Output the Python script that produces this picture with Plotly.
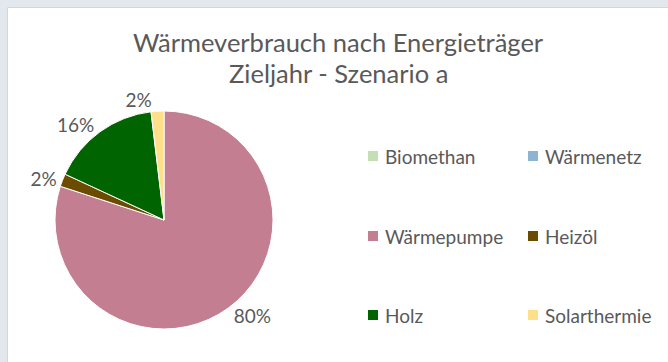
import plotly.graph_objects as go

# Energy carriers and their share of heat consumption (target year, scenario a)
categories = ["Biomethan", "Wärmenetz", "Wärmepumpe", "Heizöl", "Holz", "Solarthermie"]
shares = [0.0, 0.0, 80.0, 1.9, 16.2, 1.9]
colors = ["#c5dfb4", "#8db4d2", "#c47e91", "#6a4b00", "#006400", "#ffdf8a"]

title_lines = ["Wärmeverbrauch nach Energieträger", "Zieljahr - Szenario a"]

W, H = 668, 362
TEXT = "#595959"
FONT = "Lato"

# Carriers with no share get no slice (and no "0%" label), but stay in the key
drawn = [i for i, v in enumerate(shares) if v > 0]

fig = go.Figure()

fig.add_trace(go.Pie(
    labels=[categories[i] for i in drawn],
    values=[shares[i] for i in drawn],
    sort=False,
    direction="clockwise",
    rotation=0,
    marker=dict(colors=[colors[i] for i in drawn], line=dict(color="white", width=1)),
    textposition="outside",
    texttemplate="%{percent:.0%}",
    textfont=dict(family=FONT, size=19, color=TEXT),
    showlegend=False,
    domain=dict(x=[55 / W, 273 / W], y=[(H - 329) / H, (H - 111) / H]),
    hoverinfo="label+percent",
))


def px_x(x):
    return x / W


def px_y(y):
    return 1 - y / H


# Key: two columns, three rows, square swatch followed by the carrier name
col_x = [368, 528]
row_y = [156, 236, 315]
shapes = [dict(type="rect", xref="paper", yref="paper",
               x0=7.5 / W, x1=1.02, y0=-0.02, y1=1 - 7.5 / H,
               fillcolor="white", line=dict(color="#d6d6d6", width=1),
               layer="below")]
annotations = []
for i, (name, color) in enumerate(zip(categories, colors)):
    cx = col_x[i % 2]
    cy = row_y[i // 2]
    shapes.append(dict(type="rect", xref="paper", yref="paper",
                       x0=px_x(cx), x1=px_x(cx + 10),
                       y0=px_y(cy + 5), y1=px_y(cy - 5),
                       fillcolor=color, line=dict(width=0)))
    annotations.append(dict(text=name, x=px_x(cx + 15), y=px_y(cy),
                            xref="paper", yref="paper",
                            xanchor="left", yanchor="middle", showarrow=False,
                            font=dict(family=FONT, size=19, color=TEXT)))

for line, yc in zip(title_lines, [42, 73]):
    annotations.append(dict(text=line, x=px_x(338), y=px_y(yc),
                            xref="paper", yref="paper",
                            xanchor="center", yanchor="middle", showarrow=False,
                            font=dict(family=FONT, size=25.5, color=TEXT)))

fig.update_layout(
    width=W, height=H,
    margin=dict(l=0, r=0, t=0, b=0),
    paper_bgcolor="#e3e8ef",
    showlegend=False,
    shapes=shapes,
    annotations=annotations,
)

fig.write_html("out.html")
